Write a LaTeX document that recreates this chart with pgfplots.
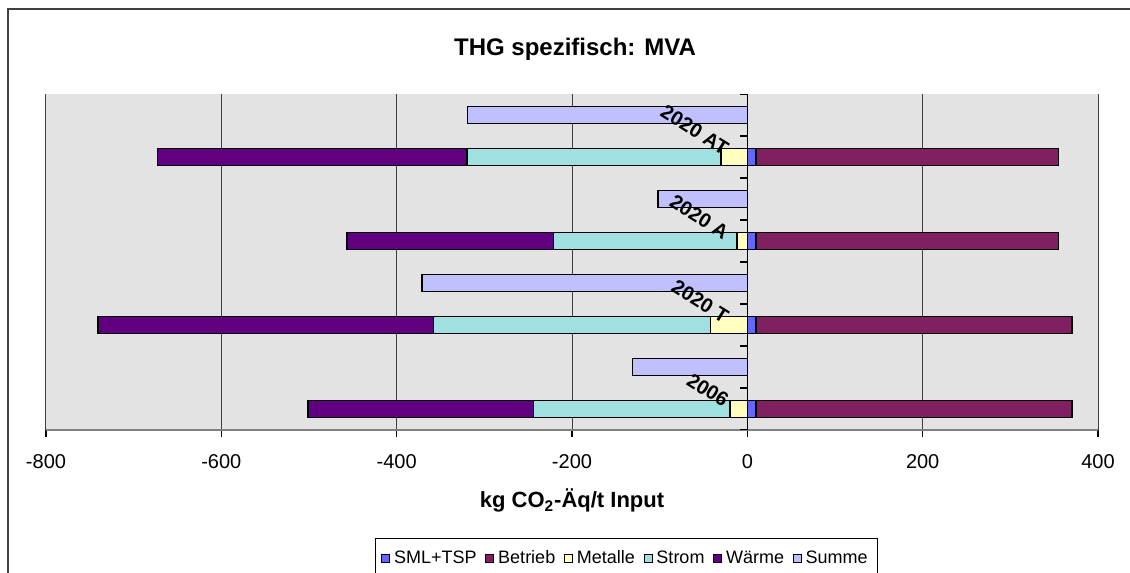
\documentclass[border=0pt]{standalone}
\usepackage{fontspec}
\setmainfont{Liberation Sans}
\usepackage{pgfplots}
\pgfplotsset{compat=1.18}
\usepackage{pgfplotstable}

\definecolor{plotbg}{RGB}{227,227,227}
\definecolor{sml}{RGB}{102,102,255}
\definecolor{betrieb}{RGB}{128,32,96}
\definecolor{metalle}{RGB}{255,255,192}
\definecolor{strom}{RGB}{160,224,224}
\definecolor{waerme}{RGB}{96,0,128}
\definecolor{summe}{RGB}{192,192,255}

% components per scenario (kg CO2-eq / t input)
\pgfplotstableread{
y  SML Betrieb Metalle Strom Waerme
0  10  360     -20     -224  -257
2  10  360     -42     -316  -383
4  10  345     -12     -209  -236
6  10  345     -30     -290  -353
}\stacked

\pgfplotstableread{
y Summe
1 -131
3 -371
5 -102
7 -319
}\summe

\pgfplotsset{bars/.style={xbar, bar width=8.5pt, bar shift=0pt, draw=black, line width=0.8pt, forget plot}}

\begin{document}
\begin{tikzpicture}
\clip (0,0) rectangle (565pt,286.5pt);
\draw[black!75, line width=1pt] (4pt,-2pt) -- (4pt,282pt) -- (567pt,282pt);
\begin{axis}[
  at={(23pt,71.5pt)}, anchor=south west,
  scale only axis, width=526pt, height=168pt,
  xmin=-800, xmax=400, ymin=-0.5, ymax=7.5,
  axis background/.style={fill=plotbg},
  axis x line=bottom, axis y line=middle,
  axis line style={-},
  x axis line style={draw=gray, line width=1pt},
  y axis line style={draw=black, line width=0.7pt},
  hide obscured x ticks=false,
  tick align=outside, major tick length=3.5pt,
  tick style={black, line width=0.6pt},
  xtick={-800,-600,...,400},
  xticklabels={-800,-600,-400,-200,0,200,400},
  xticklabel style={font=\fontsize{10}{12}\selectfont, anchor=base, yshift=-16pt},
  xmajorgrids=true,
  grid style={black!75, line width=0.5pt},
  ytick=\empty,
  title={THG spezifisch: MVA},
  title style={at={(0.5,1)}, anchor=base, yshift=13.5pt, xshift=1.5pt,
    font=\bfseries\fontsize{12}{14}\selectfont},
  xlabel={kg CO\textsubscript{2}-Äq/t Input},
  xlabel style={at={(0.5,0)}, anchor=base, yshift=-39pt,
    font=\bfseries\fontsize{11}{13}\selectfont},
  legend columns=6,
  legend image code/.code={\draw[#1, line width=0.4pt] (0pt,-2pt) rectangle (4pt,2pt);},
  legend style={at={(0.5518,-0.3214)}, anchor=north, draw=black, line width=0.5pt,
    font=\fontsize{9}{11}\selectfont, inner xsep=3pt, inner ysep=4pt,
    /tikz/every even column/.append style={column sep=2.4pt}},
]
\addplot[bars, fill=betrieb] table[y=y, x expr=\thisrow{SML}+\thisrow{Betrieb}] {\stacked};
\addplot[bars, fill=sml] table[y=y, x=SML] {\stacked};
\addplot[bars, fill=waerme] table[y=y, x expr=\thisrow{Metalle}+\thisrow{Strom}+\thisrow{Waerme}] {\stacked};
\addplot[bars, fill=strom] table[y=y, x expr=\thisrow{Metalle}+\thisrow{Strom}] {\stacked};
\addplot[bars, fill=metalle] table[y=y, x=Metalle] {\stacked};
\addplot[bars, fill=summe] table[y=y, x=Summe] {\summe};

\addlegendimage{fill=sml, draw=black}
\addlegendentry{SML+TSP}
\addlegendimage{fill=betrieb, draw=black}
\addlegendentry{Betrieb}
\addlegendimage{fill=metalle, draw=black}
\addlegendentry{Metalle}
\addlegendimage{fill=strom, draw=black}
\addlegendentry{Strom}
\addlegendimage{fill=waerme, draw=black}
\addlegendentry{Wärme}
\addlegendimage{fill=summe, draw=black}
\addlegendentry{Summe}

% category axis ticks between the rows, pointing left
\foreach \yy in {-0.5,0.5,...,7.5}{
  \edef\temp{\noexpand\draw[black, line width=0.6pt] (axis cs:0,\yy) -- ++(-3.5pt,0pt);}
  \temp
}
% category labels, drawn on top of the bars
\foreach \yy/\lab in {0/2006, 2/2020 T, 4/2020 A, 6/2020 AT}{
  \edef\temp{\noexpand\node[font=\noexpand\bfseries\noexpand\fontsize{10}{12}\noexpand\selectfont,
    inner sep=0pt, anchor=base east, xshift=-12pt, yshift=0.5pt, rotate=-32]
    at (axis cs:0,\yy) {\lab};}
  \temp
}
\end{axis}
\end{tikzpicture}
\end{document}
